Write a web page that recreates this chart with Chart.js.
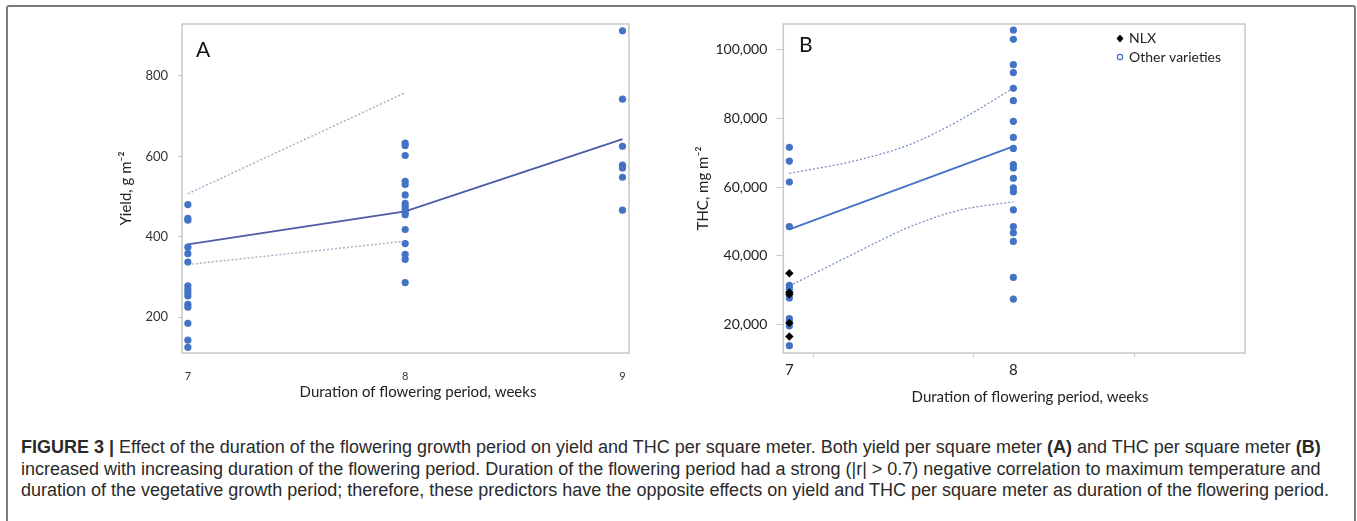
<!DOCTYPE html>
<html>
<head>
<meta charset="utf-8">
<script src="https://cdn.jsdelivr.net/npm/chart.js@4.4.0/dist/chart.umd.min.js"></script>
<style>
  body { margin: 0; background: #fff; width: 1357px; height: 521px; overflow: hidden; position: relative; }
  #marco { position: absolute; left: 6px; top: 5px; width: 1346px; height: 600px; border: 2px solid #7a7a7a; border-radius: 3px; }
  #cA { position: absolute; left: 0; top: 0; }
  #cB { position: absolute; left: 680px; top: 0; }
  #pie { position: absolute; left: 21px; top: 437px; font-family: "Liberation Sans", Arial, sans-serif; font-size: 18px; line-height: 21.5px; color: #2a2a2a; white-space: nowrap; }
</style>
</head>
<body>
<div id="marco"></div>
<canvas id="cA" width="680" height="415"></canvas>
<canvas id="cB" width="677" height="415"></canvas>
<div id="pie"><b>FIGURE 3 |</b> Effect of the duration of the flowering growth period on yield and THC per square meter. Both yield per square meter <b>(A)</b> and THC per square meter <b>(B)</b><br>increased with increasing duration of the flowering period. Duration of the flowering period had a strong (|r| &gt; 0.7) negative correlation to maximum temperature and<br>duration of the vegetative growth period; therefore, these predictors have the opposite effects on yield and THC per square meter as duration of the flowering period.</div>

<script>
// Datos panel A (rendimiento, g m-2)
var semanasA = [7, 8, 9];
var yieldSem7 = [480, 446, 441, 374, 358, 337, 278, 269, 261, 253, 232, 225, 185, 143, 125];
var yieldSem8 = [633, 627, 602, 538, 530, 504, 483, 476, 468, 460, 455, 418, 383, 356, 344, 286];
var yieldSem9 = [912, 742, 625, 578, 571, 548, 466];
var yieldAjuste = [381, 463, 643];
var bandaSemA = [7, 8];
var yieldSup = [507, 758];
var yieldInf = [331, 389];
var yieldTicks = [200, 400, 600, 800];

// Datos panel B (THC, mg m-2)
var semanasB = [7, 8];
var thcSem7 = [71600, 67600, 61500, 48500, 31400, 30600, 29500, 27700, 21700, 21000, 19600, 13800];
var thcNlx = [34900, 29300, 28700, 20400, 16500];
var thcSem8 = [105800, 103100, 95700, 93400, 88800, 85200, 79200, 74500, 71300, 66600, 65600, 62600, 59800, 58700, 53400, 48500, 46700, 44200, 33700, 27400];
var thcAjuste = [47700, 71900];
var bandaSupX = [7, 7.3, 7.54, 7.76, 8];
var thcSup = [64000, 67800, 72500, 79500, 88900];
var bandaInfX = [7, 7.3, 7.54, 7.76, 8];
var thcInf = [31200, 41000, 48500, 53300, 55700];
var thcTicks = [20000, 40000, 60000, 80000, 100000];
var marcasB = [7, 7.11, 7.823, 8, 8.542];

var tituloX = 'Duration of flowering period, weeks';
var azul = '#4472C4';

Chart.defaults.font.family = 'Lato, sans-serif';
Chart.defaults.color = '#222';

/* Función para pasar dos listas a puntos {x, y} */
function puntos(xs, ys) {
  return ys.map(function (v, i) { return { x: xs[i], y: v }; });
}

/* Función para repetir una semana para toda una columna */
function columna(semana, ys) {
  return ys.map(function (v) { return { x: semana, y: v }; });
}

// Marco gris del área de la gráfica
var marcoPlot = {
  id: 'marcoPlot',
  beforeDatasetsDraw: function (chart) {
    var a = chart.chartArea, ctx = chart.ctx;
    ctx.save();
    ctx.strokeStyle = '#c8c8c8';
    ctx.lineWidth = 1.5;
    ctx.strokeRect(a.left, a.top, a.right - a.left, a.bottom - a.top);
    ctx.restore();
  }
};

// Textos sueltos: letra del panel y título del eje x
function textos(id, letraTxt, lx, ly, tx, ty) {
  return {
    id: id,
    afterDraw: function (chart) {
      var ctx = chart.ctx;
      ctx.save();
      ctx.fillStyle = '#111';
      ctx.font = '21px Lato, sans-serif';
      ctx.textBaseline = 'alphabetic';
      ctx.fillText(letraTxt, lx, ly);
      ctx.font = '15px Lato, sans-serif';
      ctx.fillStyle = '#222';
      ctx.textAlign = 'center';
      ctx.textBaseline = 'middle';
      ctx.fillText(tituloX, tx, ty);
      ctx.restore();
    }
  };
}

// Leyenda del panel B
var leyendaB = {
  id: 'leyendaB',
  afterDraw: function (chart) {
    var ctx = chart.ctx;
    var mx = 440, tx = 449;
    ctx.save();
    ctx.fillStyle = '#000';
    ctx.beginPath();
    ctx.moveTo(mx, 38.5 - 4); ctx.lineTo(mx + 3.5, 38.5); ctx.lineTo(mx, 38.5 + 4); ctx.lineTo(mx - 3.5, 38.5);
    ctx.closePath(); ctx.fill();
    ctx.strokeStyle = azul; ctx.lineWidth = 1.2;
    ctx.beginPath(); ctx.arc(mx, 57, 2.6, 0, Math.PI * 2); ctx.stroke();
    ctx.font = '14px Lato, sans-serif';
    ctx.fillStyle = '#222';
    ctx.textBaseline = 'middle';
    ctx.fillText('NLX', tx, 38.5);
    ctx.fillText('Other varieties', tx, 57);
    ctx.restore();
  }
};

// Gráfico A
new Chart(document.getElementById('cA'), {
  type: 'scatter',
  data: {
    datasets: [
      { data: columna(7, yieldSem7).concat(columna(8, yieldSem8), columna(9, yieldSem9)),
        backgroundColor: azul, borderColor: azul, pointRadius: 3.6, pointBorderWidth: 0 },
      { data: puntos(semanasA, yieldAjuste), showLine: true, borderColor: '#4f5ba6', borderWidth: 1.8, pointRadius: 0 },
      { data: puntos(bandaSemA, yieldSup), showLine: true, borderColor: '#aeb0c8', borderWidth: 1.5, borderDash: [2, 2], pointRadius: 0 },
      { data: puntos(bandaSemA, yieldInf), showLine: true, borderColor: '#aeb0c8', borderWidth: 1.5, borderDash: [2, 2], pointRadius: 0 }
    ]
  },
  options: {
    responsive: false,
    animation: false,
    layout: { padding: { top: 24, right: 51, left: 0, bottom: 0 } },
    plugins: { legend: { display: false }, tooltip: { enabled: false } },
    scales: {
      x: {
        type: 'linear', min: 6.973, max: 9.03,
        afterBuildTicks: function (s) { s.ticks = semanasA.map(function (v) { return { value: v }; }); },
        grid: { display: false },
        border: { display: false },
        ticks: { font: { size: 11 }, color: '#333', padding: 9, autoSkip: false },
        afterFit: function (s) { s.height = 62; }
      },
      y: {
        min: 111, max: 929,
        afterBuildTicks: function (s) { s.ticks = yieldTicks.map(function (v) { return { value: v }; }); },
        grid: { drawOnChartArea: false, drawTicks: true, tickLength: 4, color: '#c8c8c8' },
        border: { display: false },
        ticks: { font: { size: 13 }, color: '#333', padding: 10 },
        title: { display: true, text: 'Yield, g m⁻²', font: { size: 15 }, color: '#222', padding: { top: 117, bottom: 0 } },
        afterFit: function (s) { s.width = 182; }
      }
    }
  },
  plugins: [marcoPlot, textos('textosA', 'A', 196, 57, 418, 392)]
});

// Gráfico B
new Chart(document.getElementById('cB'), {
  type: 'scatter',
  data: {
    datasets: [
      { data: columna(7, thcNlx), backgroundColor: '#000', borderColor: '#000', pointStyle: 'rectRot', pointRadius: 4.2, pointBorderWidth: 0 },
      { data: columna(7, thcSem7).concat(columna(8, thcSem8)),
        backgroundColor: azul, borderColor: azul, pointRadius: 3.6, pointBorderWidth: 0 },
      { data: puntos(semanasB, thcAjuste), showLine: true, borderColor: '#4472C4', borderWidth: 1.8, pointRadius: 0 },
      { data: puntos(bandaSupX, thcSup), showLine: true, borderColor: '#7b8fc6', borderWidth: 1.3, borderDash: [2, 2], pointRadius: 0, cubicInterpolationMode: 'monotone' },
      { data: puntos(bandaInfX, thcInf), showLine: true, borderColor: '#7b8fc6', borderWidth: 1.3, borderDash: [2, 2], pointRadius: 0, cubicInterpolationMode: 'monotone' }
    ]
  },
  options: {
    responsive: false,
    animation: false,
    layout: { padding: { top: 24, right: 112, left: 0, bottom: 0 } },
    plugins: { legend: { display: false }, tooltip: { enabled: false } },
    scales: {
      x: {
        type: 'linear', min: 6.973, max: 9.034,
        afterBuildTicks: function (s) { s.ticks = marcasB.map(function (v) { return { value: v }; }); },
        grid: {
          drawOnChartArea: false, drawTicks: true, tickLength: 4,
          tickColor: function (ctx) { return ctx.tick && Number.isInteger(ctx.tick.value) ? 'rgba(0,0,0,0)' : '#c8c8c8'; }
        },
        border: { display: false },
        ticks: {
          font: { size: 15 }, color: '#222', padding: 4, autoSkip: false, maxRotation: 0,
          callback: function (v) { return Number.isInteger(v) ? String(v) : ''; }
        },
        afterFit: function (s) { s.height = 62; }
      },
      y: {
        min: 11670, max: 107555,
        afterBuildTicks: function (s) { s.ticks = thcTicks.map(function (v) { return { value: v }; }); },
        grid: { drawOnChartArea: false, drawTicks: true, tickLength: 7, color: '#c8c8c8' },
        border: { display: false },
        ticks: { font: { size: 14 }, color: '#222', padding: 9,
          callback: function (v) { return v.toLocaleString('en-US'); } },
        title: { display: true, text: 'THC, mg m⁻²', font: { size: 15 }, color: '#222', padding: { top: 14, bottom: 0 } },
        afterFit: function (s) { s.width = 103.3; }
      }
    }
  },
  plugins: [marcoPlot, textos('textosB', 'B', 119, 52, 350, 397), leyendaB]
});
</script>
</body>
</html>
